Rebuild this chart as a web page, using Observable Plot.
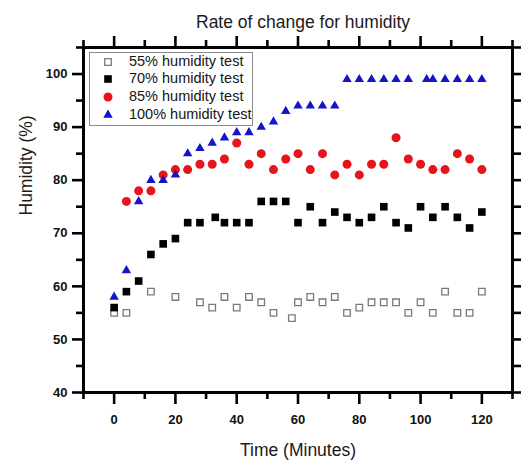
<!DOCTYPE html>
<html>
<head>
<meta charset="utf-8">
<script src="https://cdn.jsdelivr.net/npm/d3@7"></script>
<script src="https://cdn.jsdelivr.net/npm/@observablehq/plot@0.6"></script>
<style>
  body { margin: 0; background: #fff; }
  #chart { position: relative; width: 524px; height: 465px; font-family: "Liberation Sans", Arial, sans-serif; }
  #chart svg.plot { display: block; }
  .legend { position: absolute; left: 89.3px; top: 51.7px; width: 163.7px; height: 74.3px;
            border: 1px solid #8c8c8c; background: #fff; box-sizing: border-box; }
  .legend .row { position: relative; height: 17.75px; line-height: 17.75px; font-size: 14.5px;
                 padding-left: 38.7px; color: #151515; white-space: nowrap; }
  .legend .row svg { position: absolute; left: 11.7px; top: 2.9px; overflow: visible; }
</style>
</head>
<body>
<div id="chart"></div>
<script>
// Humidity readings (%) taken every few minutes for four test conditions
const seriesNames = ["55% humidity test", "70% humidity test", "85% humidity test", "100% humidity test"];

const time55 = [0, 4, 12, 20, 28, 32, 36, 40, 44, 48, 52, 58, 60, 64, 68, 72, 76, 80, 84, 88, 92, 96, 100, 104, 108, 112, 116, 120];
const hum55  = [55, 55, 59, 58, 57, 56, 58, 56, 58, 57, 55, 54, 57, 58, 57, 58, 55, 56, 57, 57, 57, 55, 57, 55, 59, 55, 55, 59];

const time70 = [0, 4, 8, 12, 16, 20, 24, 28, 33, 36, 40, 44, 48, 52, 56, 60, 64, 68, 72, 76, 80, 84, 88, 92, 96, 100, 104, 108, 112, 116, 120];
const hum70  = [56, 59, 61, 66, 68, 69, 72, 72, 73, 72, 72, 72, 76, 76, 76, 72, 75, 72, 74, 73, 72, 73, 75, 72, 71, 75, 73, 75, 73, 71, 74];

const time85 = [4, 8, 12, 16, 20, 24, 28, 32, 36, 40, 44, 48, 52, 56, 60, 64, 68, 72, 76, 80, 84, 88, 92, 96, 100, 104, 108, 112, 116, 120];
const hum85  = [76, 78, 78, 81, 82, 82, 83, 83, 84, 87, 83, 85, 82, 84, 85, 82, 85, 81, 83, 81, 83, 83, 88, 84, 83, 82, 82, 85, 84, 82];

const time100 = [0, 4, 8, 12, 16, 20, 24, 28, 32, 36, 40, 44, 48, 52, 56, 60, 64, 68, 72, 76, 80, 84, 88, 92, 96, 102, 104, 108, 112, 116, 120];
const hum100  = [58, 63, 76, 80, 80, 81, 85, 86, 87, 88, 89, 89, 90, 91, 93, 94, 94, 94, 94, 99, 99, 99, 99, 99, 99, 99, 99, 99, 99, 99, 99];

const xMajor = [0, 20, 40, 60, 80, 100, 120];
const xMinor = [-10, 10, 30, 50, 70, 90, 110, 130];
const yMajor = [40, 50, 60, 70, 80, 90, 100];
const yMinor = [45, 55, 65, 75, 85, 95, 105];

const toRows = (t, h) => t.map((time, i) => ({time, humidity: h[i]}));

// marker style per series
const styles = [
  {symbol: "square",   r: 3.7, fill: "white", stroke: "#7a7a7a", strokeWidth: 1.3},
  {symbol: "square",   r: 4.3, fill: "black", stroke: "none"},
  {symbol: "circle",   r: 4.5, fill: "#e8141c", stroke: "none"},
  {symbol: "triangle", r: 3.5, fill: "#1414c8", stroke: "none"}
];
const data = [toRows(time55, hum55), toRows(time70, hum70), toRows(time85, hum85), toRows(time100, hum100)];

const tickStyle = {strokeWidth: 2.6, label: null};

const chart = Plot.plot({
  width: 524,
  height: 465,
  marginLeft: 83,
  marginRight: 12,
  marginTop: 47,
  marginBottom: 73,
  style: {fontFamily: "Liberation Sans, Arial, sans-serif", background: "white", overflow: "visible"},
  x: {domain: [-10, 130], label: null},
  y: {domain: [40, 105], label: null},
  marks: [
    // bottom axis
    Plot.axisX({anchor: "bottom", ticks: xMajor, tickSize: 12, tickPadding: 10, fontSize: 13, fontWeight: "bold", fill: "#111", ...tickStyle}),
    Plot.axisX({anchor: "bottom", ticks: xMinor, tickSize: 7, fill: "none", ...tickStyle}),
    // top axis (ticks only)
    Plot.axisX({anchor: "top", ticks: xMajor, tickSize: 12, fill: "none", ...tickStyle}),
    Plot.axisX({anchor: "top", ticks: xMinor, tickSize: 8, fill: "none", ...tickStyle}),
    // left axis
    Plot.axisY({anchor: "left", ticks: yMajor, tickSize: 11, tickPadding: 5, fontSize: 13, fontWeight: "bold", fill: "#111", ...tickStyle}),
    Plot.axisY({anchor: "left", ticks: yMinor, tickSize: 7, fill: "none", ...tickStyle}),
    // right axis (ticks only)
    Plot.axisY({anchor: "right", ticks: yMajor.concat(yMinor), tickSize: 8, fill: "none", ...tickStyle}),
    Plot.frame({stroke: "black", strokeWidth: 3}),
    // axis titles and chart title
    Plot.text(["Rate of change for humidity"], {frameAnchor: "top", dx: 5, dy: -20, lineAnchor: "bottom", fontSize: 17.5, fill: "#1a1a1a"}),
    Plot.text(["Time (Minutes)"], {frameAnchor: "bottom", dy: 63, lineAnchor: "bottom", fontSize: 17.5, fill: "#1a1a1a"}),
    Plot.text(["Humidity (%)"], {frameAnchor: "left", rotate: -90, dx: -52, dy: -4.5, lineAnchor: "bottom", fontSize: 17.5, fill: "#1a1a1a"}),
    // data
    ...data.map((rows, i) => Plot.dot(rows, {x: "time", y: "humidity", ...styles[i]}))
  ]
});

const root = document.getElementById("chart");
root.appendChild(chart);

// legend box with the same symbols as the markers
const legend = document.createElement("div");
legend.className = "legend";
seriesNames.forEach((name, i) => {
  const s = styles[i];
  const row = document.createElement("div");
  row.className = "row";
  const sym = d3.create("svg").attr("width", 12).attr("height", 12);
  sym.append("path")
    .attr("transform", "translate(6,6)")
    .attr("d", d3.symbol(s.symbol === "square" ? d3.symbolSquare : s.symbol === "circle" ? d3.symbolCircle : d3.symbolTriangle, s.r * s.r * Math.PI)())
    .attr("fill", s.fill)
    .attr("stroke", s.stroke)
    .attr("stroke-width", s.strokeWidth || 0);
  row.appendChild(sym.node());
  row.appendChild(document.createTextNode(name));
  legend.appendChild(row);
});
root.appendChild(legend);
</script>
</body>
</html>
